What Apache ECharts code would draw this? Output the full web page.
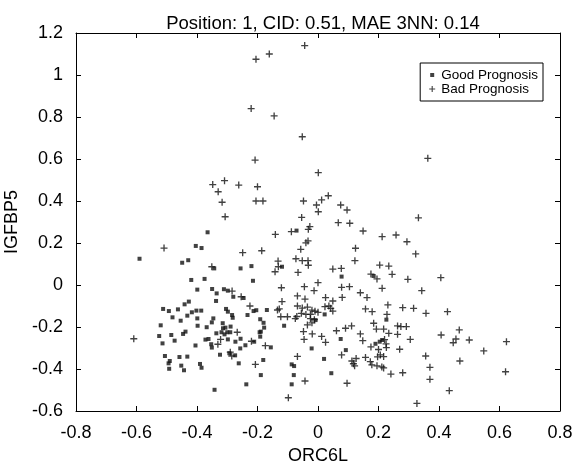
<!DOCTYPE html>
<html>
<head>
<meta charset="UTF-8">
<title>Position: 1</title>
<script src="https://cdn.jsdelivr.net/npm/echarts@6/dist/echarts.min.js"></script>
<style>body{margin:0;background:#fff;}</style>
</head>
<body>
<div id="main" style="width:572px;height:468px;"></div>
<script>
// values: [ORC6L, IGFBP5]
var goodPrognosis = [
  [-0.59,0.125],[-0.365,0.251],[-0.404,0.186],[-0.385,0.176],[-0.449,0.106],[-0.429,0.118],
  [-0.343,0.079],[-0.256,0.079],[-0.22,0.09],[-0.419,0.024],[-0.375,0.029],[-0.215,0.02],
  [-0.399,-0.022],[-0.35,-0.019],[-0.335,-0.04],[-0.311,-0.02],[-0.298,-0.027],[-0.28,-0.056],
  [-0.246,-0.062],[-0.337,-0.076],[-0.427,-0.079],[-0.441,-0.092],[-0.512,-0.114],[-0.493,-0.124],
  [-0.463,-0.116],[-0.402,-0.122],[-0.386,-0.122],[-0.417,-0.13],[-0.432,-0.146],[-0.481,-0.154],
  [-0.454,-0.17],[-0.399,-0.159],[-0.398,-0.194],[-0.346,-0.159],[-0.351,-0.178],[-0.368,-0.201],
  [-0.52,-0.192],[-0.438,-0.222],[-0.446,-0.233],[-0.525,-0.243],[-0.485,-0.238],[-0.514,-0.278],
  [-0.474,-0.265],[-0.372,-0.26],[-0.362,-0.257],[-0.405,-0.288],[-0.336,-0.23],[-0.319,-0.225],
  [-0.314,-0.206],[-0.309,-0.235],[-0.3,-0.225],[-0.29,-0.225],[-0.298,-0.259],[-0.273,-0.27],
  [-0.353,-0.282],[-0.351,-0.298],[-0.256,-0.256],[-0.24,-0.287],[-0.257,-0.302],[-0.506,-0.338],
  [-0.458,-0.343],[-0.432,-0.341],[-0.49,-0.362],[-0.494,-0.373],[-0.492,-0.399],[-0.452,-0.384],
  [-0.443,-0.406],[-0.39,-0.376],[-0.385,-0.394],[-0.324,-0.332],[-0.293,-0.325],[-0.274,-0.335],
  [-0.262,-0.373],[-0.237,-0.473],[-0.342,-0.499],[-0.304,-0.114],[-0.298,-0.127],[-0.284,-0.143],
  [-0.282,-0.156],[-0.233,-0.143],[-0.213,-0.124],[-0.315,-0.182],[-0.306,-0.203],[-0.289,-0.198],
  [-0.204,-0.12],[-0.169,-0.119],[-0.191,-0.163],[-0.18,-0.18],[-0.178,-0.203],[-0.189,-0.222],
  [-0.112,-0.194],[-0.193,-0.225],[-0.191,-0.246],[-0.211,-0.27],[-0.156,-0.297],[-0.181,-0.357],
  [-0.087,-0.378],[-0.079,-0.386],[-0.189,-0.429],[-0.08,-0.429],[-0.087,-0.473],[-0.071,0.259],
  [-0.119,0.087],[0.078,0.04],[0.184,0.043],[0.022,-0.14],[-0.008,-0.167],[0.075,-0.257],
  [-0.021,-0.302],[0.02,-0.352],[0.092,-0.31],[0.044,-0.42],[0.204,-0.27],[0.212,-0.262],
  [0.19,-0.28],[0.226,-0.165]
];
var badPrognosis = [
  [-0.205,1.075],[-0.161,1.10],[-0.044,1.14],[-0.221,0.84],[-0.145,0.805],[-0.052,0.706],[-0.208,0.595],
  [-0.348,0.478],[-0.309,0.497],[-0.262,0.476],[-0.2,0.468],[-0.33,0.444],[-0.317,0.394],
  [-0.205,0.40],[-0.182,0.40],[-0.048,0.40],[-0.307,0.325],[-0.054,0.322],[0.363,0.603],[0.001,0.535],
  [-0.005,0.381],[0.001,0.349],[0.012,0.405],[0.034,0.425],[0.075,0.381],[0.096,0.357],[0.332,0.32],
  [-0.509,0.176],[-0.249,0.154],[-0.351,0.087],[-0.284,-0.029],[-0.254,-0.056],[0.067,0.297],[0.105,0.294],
  [-0.027,0.278],[-0.032,0.265],[-0.088,0.254],[-0.141,0.241],[0.149,0.257],[0.212,0.23],
  [-0.033,0.21],[-0.04,0.201],[-0.186,0.163],[-0.057,0.17],[0.124,0.175],[0.122,0.116],
  [-0.073,0.125],[-0.052,0.116],[-0.033,0.116],[-0.032,0.094],[-0.132,0.114],[-0.131,0.087],[-0.142,0.063],
  [-0.066,0.06],[0.049,0.076],[0.077,0.079],[0.204,0.095],[0.175,0.052],[0.195,0.029],[0,0.011],
  [-0.121,-0.013],[-0.045,-0.008],[-0.013,-0.027],[0.078,-0.011],[0.104,-0.008],[0.212,-0.016],[0.14,-0.037],
  [-0.068,-0.052],[-0.043,-0.067],[0.025,-0.06],[0.049,-0.076],[0.08,-0.059],[0.162,-0.06],
  [-0.119,-0.079],[-0.128,-0.114],[-0.134,-0.119],[0.023,-0.103],[0.036,-0.1],[0.042,-0.111],[0.049,-0.124],
  [-0.068,-0.1],[-0.052,-0.11],[-0.035,-0.105],[-0.02,-0.12],[-0.01,-0.125],[0.0,-0.13],[-0.025,-0.14],
  [-0.04,-0.14],[-0.055,-0.135],[-0.07,-0.15],[-0.075,-0.16],[-0.025,-0.16],[-0.012,-0.165],[-0.02,-0.18],
  [-0.035,-0.19],[-0.123,-0.151],[-0.101,-0.151],[0.157,-0.114],[0.179,-0.127],[0.184,-0.182],[0.193,-0.21],
  [0.061,-0.218],[0.091,-0.206],[0.111,-0.195],[-0.048,-0.222],[-0.046,-0.259],[-0.019,-0.233],
  [0.012,-0.245],[0.025,-0.273],[0.14,-0.233],[0.148,-0.265],[-0.174,-0.289],[-0.068,-0.34],[0.078,-0.333],
  [0.112,-0.362],[0.117,-0.375],[0.126,-0.35],[0.121,-0.385],[0.157,-0.345],[0.173,-0.365],[0.178,-0.38],
  [0.195,-0.385],[0.211,-0.39],[0.175,-0.295],[0.2,-0.307],[0.197,-0.342],[0.206,-0.333],
  [-0.207,-0.378],[-0.043,-0.457],[0.096,-0.468],[-0.098,-0.537],[-0.609,-0.256],
  [-0.267,-0.225],[-0.322,-0.259],[-0.331,-0.282],[-0.22,-0.268],[-0.29,-0.32],[-0.285,-0.338],[-0.225,-0.1],
  [0.258,0.238],[0.294,0.206],[0.323,0.148],[0.234,0.09],[0.245,0.051],[0.297,0.027],[0.406,0.035],
  [0.343,-0.027],[0.231,-0.095],[0.28,-0.108],[0.316,-0.111],[0.357,-0.135],[0.428,-0.127],[0.228,-0.14],
  [0.263,-0.195],[0.274,-0.198],[0.292,-0.198],[0.217,-0.21],[0.234,-0.23],[0.263,-0.235],[0.305,-0.259],
  [0.407,-0.238],[0.467,-0.214],[0.456,-0.257],[0.447,-0.275],[0.5,-0.262],[0.623,-0.27],[0.548,-0.314],
  [0.226,-0.298],[0.27,-0.306],[0.217,-0.341],[0.356,-0.338],[0.469,-0.362],[0.37,-0.392],[0.62,-0.413],
  [0.217,-0.395],[0.241,-0.424],[0.28,-0.418],[0.37,-0.449],[0.434,-0.503],[0.327,-0.564],
  [0.22,-0.26],[0.225,-0.28]
];
var xRange = [-0.8, 0.8];
var yRange = [-0.6, 1.2];
var tickStep = 0.2;

var plusPath = 'path://M-1,-0.19H1V0.19H-1Z M-0.19,-1H0.19V1H-0.19Z';
var plusIcon = 'path://M-1,-1M1,1M-0.75,-0.14H0.75V0.14H-0.75Z M-0.14,-0.75H0.14V0.75H-0.14Z';
var squareIcon = 'path://M-1,-1M1,1M-0.5,-0.5H0.5V0.5H-0.5Z';
var font = "'Liberation Sans', Arial, sans-serif";

function fmt(v) { var s = (+v.toFixed(1)).toString(); return s === '-0' ? '0' : s; }

function axisBase(pos, showLabel) {
  return {
    type: 'value',
    position: pos,
    splitLine: { show: false },
    axisLine: { show: true, onZero: false, lineStyle: { color: '#000', width: 1 } },
    axisTick: { show: true, inside: true, length: 5, lineStyle: { color: '#000' } },
    axisLabel: { show: showLabel, color: '#000', fontFamily: font, fontSize: 18, margin: 13, formatter: fmt }
  };
}

var chart = echarts.init(document.getElementById('main'));
var xBottom = axisBase('bottom', true);
var xTop = axisBase('top', false);
[xBottom, xTop].forEach(function (a) { a.min = xRange[0]; a.max = xRange[1]; a.interval = tickStep; });
xBottom.name = 'ORC6L';
xBottom.nameLocation = 'middle';
xBottom.nameGap = 36;
xBottom.nameTextStyle = { color: '#000', fontFamily: font, fontSize: 18 };

var yLeft = axisBase('left', true);
var yRight = axisBase('right', false);
[yLeft, yRight].forEach(function (a) { a.min = yRange[0]; a.max = yRange[1]; a.interval = tickStep; });
yLeft.name = 'IGFBP5';
yLeft.nameLocation = 'middle';
yLeft.nameGap = 54;
yLeft.nameTextStyle = { color: '#000', fontFamily: font, fontSize: 18 };

chart.setOption({
  animation: false,
  backgroundColor: '#fff',
  title: {
    text: 'Position: 1, CID: 0.51, MAE 3NN: 0.14',
    left: 318,
    textAlign: 'center',
    top: 9,
    textStyle: { color: '#000', fontFamily: font, fontSize: 18.5, fontWeight: 'normal' }
  },
  legend: {
    orient: 'vertical',
    right: 29,
    top: 63,
    padding: [5, 5, 5, 8],
    itemGap: 0,
    itemWidth: 8,
    itemHeight: 8,
    borderColor: '#000',
    borderWidth: 1,
    backgroundColor: '#fff',
    selectedMode: false,
    textStyle: { color: '#000', fontFamily: font, fontSize: 13.5 },
    data: [
      { name: 'Good Prognosis', icon: squareIcon },
      { name: 'Bad Prognosis', icon: plusIcon }
    ]
  },
  grid: { left: 76, right: 12, top: 33, bottom: 57, outerBoundsMode: 'none' },
  xAxis: [xBottom, xTop],
  yAxis: [yLeft, yRight],
  series: [
    {
      name: 'Good Prognosis',
      type: 'scatter',
      symbol: 'rect',
      symbolSize: 4,
      itemStyle: { color: '#111' },
      data: goodPrognosis
    },
    {
      name: 'Bad Prognosis',
      type: 'scatter',
      symbol: plusPath,
      symbolSize: 7,
      itemStyle: { color: '#111' },
      data: badPrognosis
    }
  ]
});
</script>
</body>
</html>
